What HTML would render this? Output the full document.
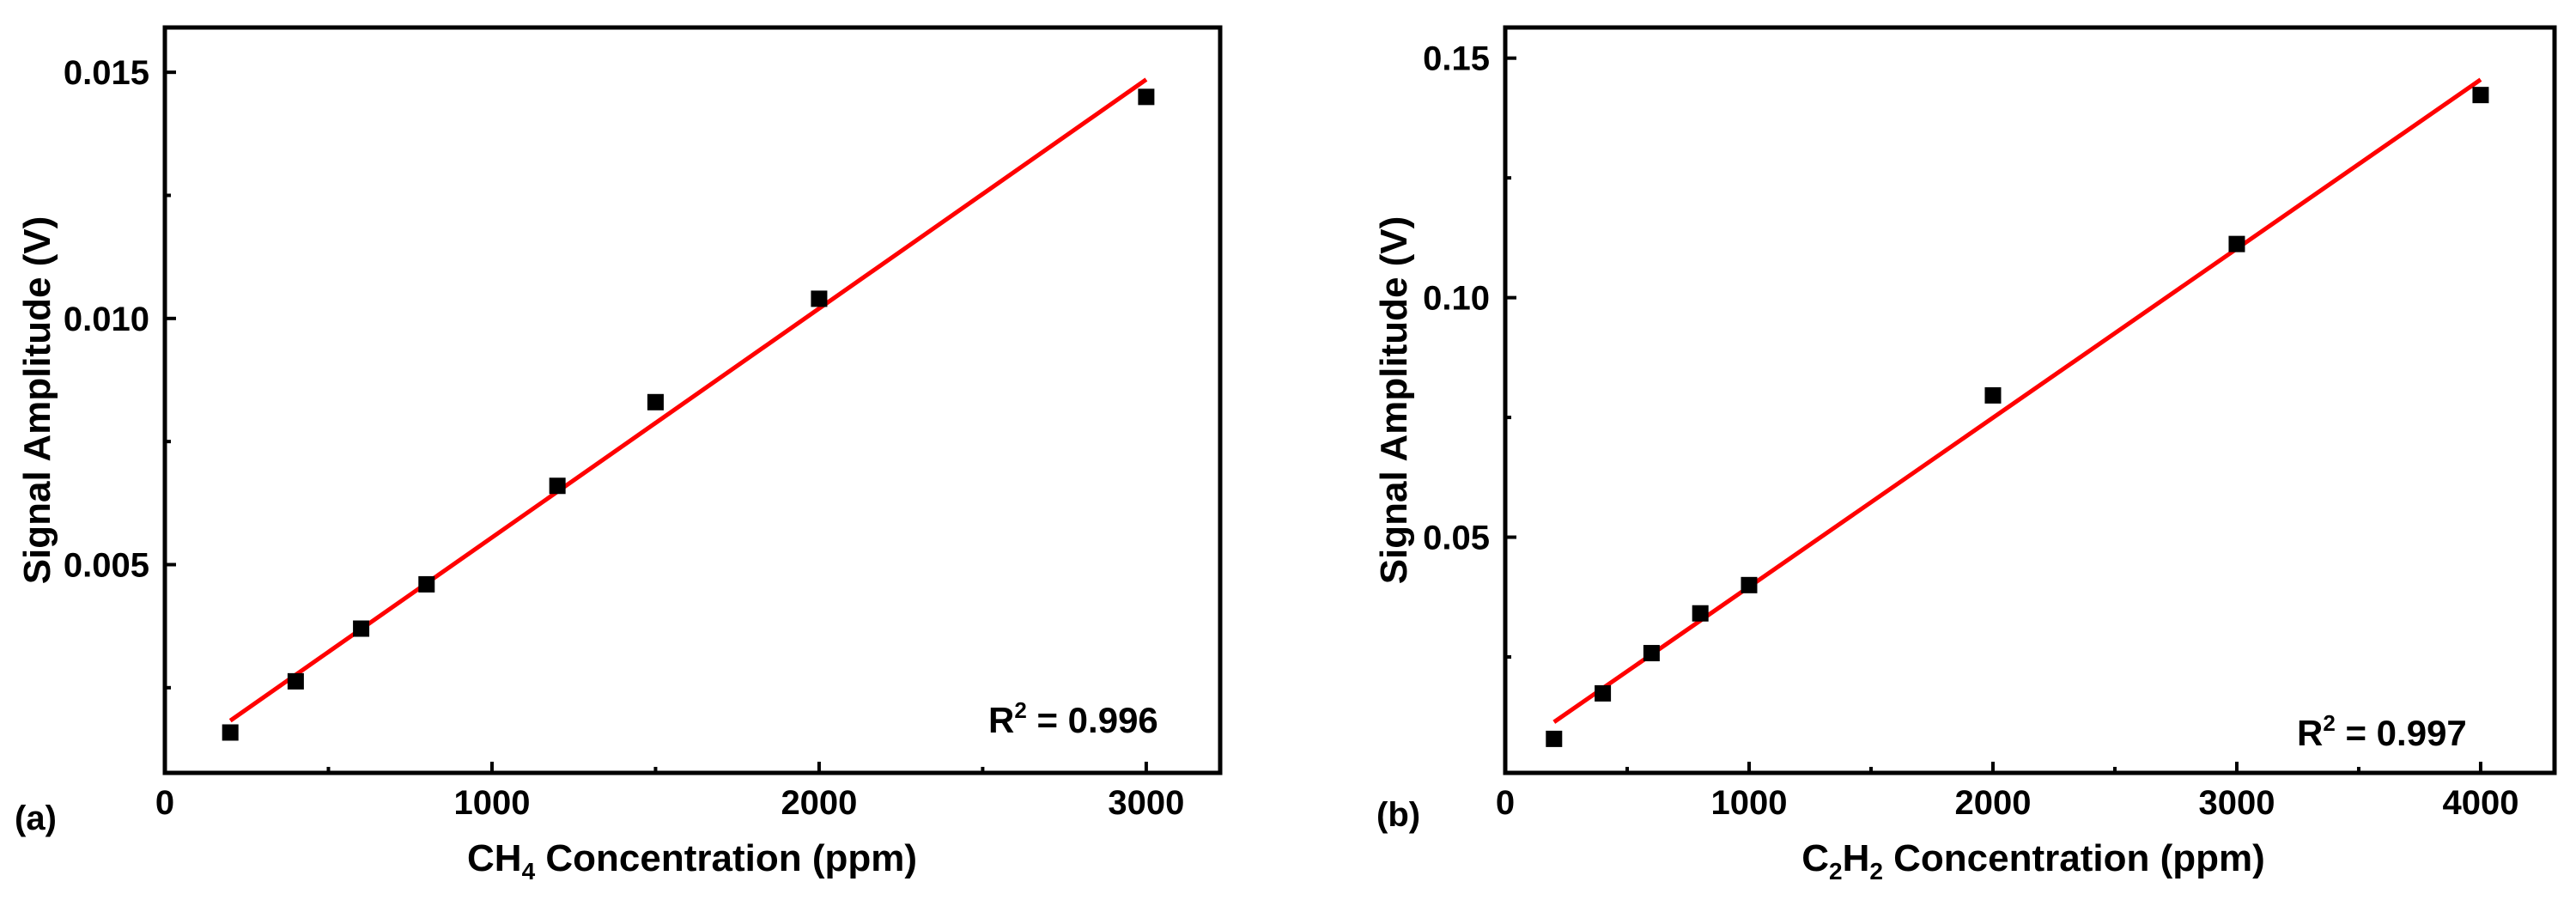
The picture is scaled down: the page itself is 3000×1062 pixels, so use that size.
<!DOCTYPE html>
<html><head><meta charset="utf-8"><style>
html,body{margin:0;padding:0;background:#fff}
svg{display:block}
text{font-family:"Liberation Sans",Arial,sans-serif;font-weight:bold;fill:#000}
</style></head><body>
<svg id="fig" width="3000" height="1062" viewBox="0 0 3000 1062"></svg>
<script>
// Panel (a) CH4
const ch4Conc = [200, 400, 600, 800, 1200, 1500, 2000, 3000];
const ch4Signal = [0.00159, 0.00263, 0.0037, 0.0046, 0.0066, 0.0083, 0.0104, 0.0145];
const ch4XTicks = [0, 1000, 2000, 3000];
const ch4XMinor = [500, 1500, 2500];
const ch4YTicks = [0.005, 0.010, 0.015];
const ch4YTickLabels = ["0.005", "0.010", "0.015"];
const ch4YMinor = [0.0025, 0.0075, 0.0125];
// Panel (b) C2H2
const c2h2Conc = [200, 400, 600, 800, 1000, 2000, 3000, 4000];
const c2h2Signal = [0.0079, 0.0174, 0.0258, 0.0341, 0.0400, 0.0796, 0.1112, 0.1423];
const c2h2XTicks = [0, 1000, 2000, 3000, 4000];
const c2h2XMinor = [500, 1500, 2500, 3500];
const c2h2YTicks = [0.05, 0.10, 0.15];
const c2h2YTickLabels = ["0.05", "0.10", "0.15"];
const c2h2YMinor = [0.025, 0.075, 0.125];

const NS = "http://www.w3.org/2000/svg";
const svg = document.getElementById('fig');
function mk(tag, attrs, parent, txt) {
  const e = document.createElementNS(NS, tag);
  for (const k in attrs) e.setAttribute(k, attrs[k]);
  if (txt !== undefined) e.textContent = txt;
  (parent || svg).appendChild(e);
  return e;
}
function fit(xs, ys) {
  const n = xs.length; let sx=0, sy=0, sxx=0, sxy=0;
  for (let i=0;i<n;i++){sx+=xs[i];sy+=ys[i];sxx+=xs[i]*xs[i];sxy+=xs[i]*ys[i];}
  const b = (n*sxy - sx*sy)/(n*sxx - sx*sx);
  return {b, a:(sy - b*sx)/n};
}

function panel(o) {
  const g = mk('g', {});
  
  
  const X = v => o.L + (v - o.xmin) / (o.xmax - o.xmin) * (o.R - o.L);
  const Y = v => o.B - (v - o.ymin) / (o.ymax - o.ymin) * (o.B - o.T);
  const f = fit(o.xs, o.ys);
  const x0 = o.xs[0], x1 = o.xs[o.xs.length-1];
  const fl = mk('line', {x1:X(x0), y1:Y(f.a+f.b*x0), x2:X(x1), y2:Y(f.a+f.b*x1), stroke:'#ff0000', 'stroke-width':5}, g);
  
  
  for (let i=0;i<o.xs.length;i++){
    const r = mk('rect', {x:X(o.xs[i])-9.5, y:Y(o.ys[i])-9.5, width:19, height:19, fill:'#000'}, g);
    
    
  }
  const fr = mk('rect', {x:o.L, y:o.T, width:o.R-o.L, height:o.B-o.T, fill:'none', stroke:'#000', 'stroke-width':5}, g);
  
  
  o.xt.forEach(v => {
    const t = mk('line', {x1:X(v), y1:o.B, x2:X(v), y2:o.B-13, stroke:'#000', 'stroke-width':4}, g);
    
    
    const l = mk('text', {x:X(v), y:948, 'font-size':40, 'text-anchor':'middle'}, g, String(v));
    
    
  });
  o.xm.forEach(v => {
    const t = mk('line', {x1:X(v), y1:o.B, x2:X(v), y2:o.B-7, stroke:'#000', 'stroke-width':4}, g);
    
    
  });
  o.yt.forEach((v,i) => {
    const t = mk('line', {x1:o.L, y1:Y(v), x2:o.L+13, y2:Y(v), stroke:'#000', 'stroke-width':4}, g);
    
    
    const l = mk('text', {x:o.L-18, y:Y(v)+14, 'font-size':40, 'text-anchor':'end'}, g, o.ytl[i]);
    
    
  });
  o.ym.forEach(v => {
    const t = mk('line', {x1:o.L, y1:Y(v), x2:o.L+7, y2:Y(v), stroke:'#000', 'stroke-width':4}, g);
    
    
  });
}

panel({name:'panel-a-ch4', L:192, R:1421, T:32, B:900, xmin:0, xmax:3226, ymin:0.00077, ymax:0.01591,
  xs:ch4Conc, ys:ch4Signal, xt:ch4XTicks, xm:ch4XMinor, yt:ch4YTicks, ytl:ch4YTickLabels, ym:ch4YMinor});
panel({name:'panel-b-c2h2', L:1753, R:2975, T:32, B:900, xmin:0, xmax:4303, ymin:0.0008, ymax:0.1564,
  xs:c2h2Conc, ys:c2h2Signal, xt:c2h2XTicks, xm:c2h2XMinor, yt:c2h2YTicks, ytl:c2h2YTickLabels, ym:c2h2YMinor});
</script>
<svg width="3000" height="1062" viewBox="0 0 3000 1062" style="position:absolute;left:0;top:0">
  <text x="43" y="466" font-size="44" text-anchor="middle" transform="rotate(-90 43 466)" dy="15">Signal Amplitude (V)</text>
  <text x="1623" y="466" font-size="44" text-anchor="middle" transform="rotate(-90 1623 466)" dy="15">Signal Amplitude (V)</text>
  <text x="806" y="1014" font-size="44" text-anchor="middle">CH<tspan font-size="28" dy="10">4</tspan><tspan dy="-10"> Concentration (ppm)</tspan></text>
  <text x="2368" y="1014" font-size="44" text-anchor="middle">C<tspan font-size="28" dy="10">2</tspan><tspan dy="-10">H</tspan><tspan font-size="28" dy="10">2</tspan><tspan dy="-10"> Concentration (ppm)</tspan></text>
  <text x="17" y="966" font-size="40">(a)</text>
  <text x="1603" y="962" font-size="40">(b)</text>
  <text x="1151" y="853" font-size="42">R<tspan font-size="26" dy="-17">2</tspan><tspan dy="17"> = 0.996</tspan></text>
  <text x="2675" y="868" font-size="42">R<tspan font-size="26" dy="-17">2</tspan><tspan dy="17"> = 0.997</tspan></text>
</svg>
</body></html>
